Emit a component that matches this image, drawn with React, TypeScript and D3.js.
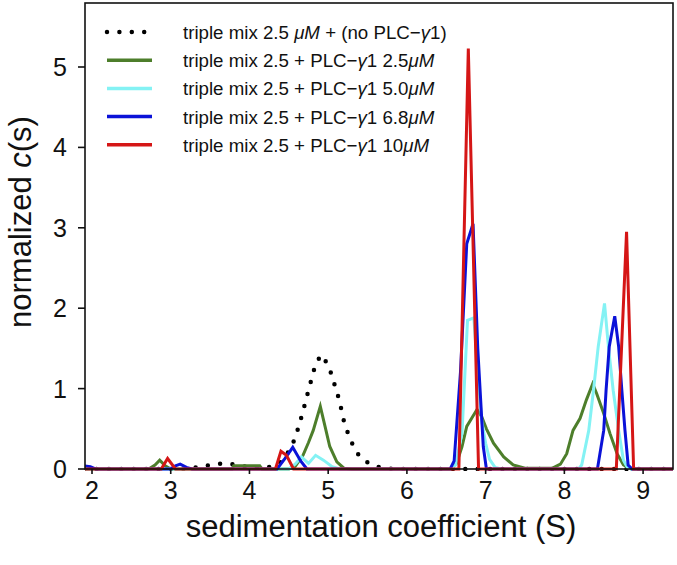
import * as d3 from 'd3';

// sedimentation coefficient (S) vs normalized c(s)
const noPlc: [number, number][] = [
  [1.9, 0], [3.2, 0], [3.4, 0.03], [3.55, 0.06], [3.7, 0.07], [3.85, 0.05],
  [4.0, 0.02], [4.2, 0.01], [4.35, 0.05], [4.42, 0.11], [4.5, 0.22],
  [4.58, 0.38], [4.67, 0.68], [4.75, 0.98], [4.83, 1.27], [4.905, 1.42],
  [5.0, 1.3], [5.05, 1.15], [5.14, 0.86], [5.21, 0.55], [5.27, 0.4],
  [5.33, 0.26], [5.41, 0.14], [5.55, 0.05], [5.7, 0.01], [5.85, 0], [9.4, 0],
];

const plc25: [number, number][] = [
  [1.9, 0], [2.72, 0], [2.8, 0.05], [2.86, 0.11], [2.93, 0.04], [3.0, 0],
  [3.78, 0], [3.8, 0.04], [4.13, 0.04], [4.16, 0], [4.5, 0], [4.58, 0.03],
  [4.68, 0.17], [4.75, 0.33], [4.81, 0.48], [4.9, 0.78], [4.96, 0.53],
  [5.02, 0.28], [5.11, 0.09], [5.2, 0.01], [5.3, 0], [6.55, 0], [6.63, 0.07],
  [6.7, 0.28], [6.76, 0.53], [6.89, 0.74], [6.95, 0.65], [7.01, 0.5],
  [7.1, 0.32], [7.23, 0.15], [7.35, 0.05], [7.5, 0.01], [7.85, 0.01],
  [7.95, 0.06], [8.03, 0.19], [8.11, 0.48], [8.2, 0.63], [8.28, 0.86],
  [8.36, 1.06], [8.41, 0.94], [8.5, 0.69], [8.58, 0.44], [8.67, 0.19],
  [8.75, 0.05], [8.85, 0], [9.4, 0],
];

const plc50: [number, number][] = [
  [1.9, 0], [4.5, 0], [4.58, 0.06], [4.66, 0.15], [4.75, 0.07], [4.84, 0.17],
  [4.94, 0.11], [5.05, 0.03], [5.15, 0], [6.55, 0], [6.62, 0.05], [6.7, 0.45],
  [6.77, 1.85], [6.85, 1.88], [6.9, 1.2], [6.95, 0.6], [7.0, 0.32],
  [7.05, 0.12], [7.12, 0.02], [7.2, 0], [8.18, 0], [8.22, 0.05], [8.31, 0.48],
  [8.37, 0.98], [8.43, 1.52], [8.51, 2.06], [8.56, 1.52], [8.62, 0.98],
  [8.69, 0.48], [8.75, 0.11], [8.8, 0.02], [8.85, 0], [9.4, 0],
];

const plc68: [number, number][] = [
  [1.9, 0.04], [1.98, 0.03], [2.05, 0], [3.0, 0], [3.06, 0.04], [3.12, 0.06],
  [3.2, 0.02], [3.27, 0], [4.35, 0], [4.45, 0.13], [4.55, 0.27], [4.65, 0.1],
  [4.73, 0], [6.55, 0], [6.6, 0.1], [6.68, 1.2], [6.76, 2.8], [6.84, 3.05],
  [6.9, 1.5], [6.97, 0.28], [7.01, 0], [8.42, 0], [8.47, 0.3], [8.5, 0.48],
  [8.53, 0.98], [8.57, 1.52], [8.64, 1.9], [8.69, 1.52], [8.73, 0.98],
  [8.77, 0.48], [8.81, 0.05], [8.86, 0], [9.4, 0],
];

const plc10: [number, number][] = [
  [1.9, 0], [2.88, 0], [2.96, 0.13], [3.06, 0], [4.33, 0], [4.4, 0.22],
  [4.47, 0.17], [4.56, 0], [6.66, 0], [6.78, 5.23], [6.91, 0], [8.66, 0],
  [8.79, 2.95], [8.88, 0], [9.4, 0],
];

const xTicks = [2, 3, 4, 5, 6, 7, 8, 9];
const yTicks = [0, 1, 2, 3, 4, 5];

type Series = {
  key: string;
  data: [number, number][];
  color: string;
  dotted?: boolean;
  label: (string | { it: string })[];
};

const series: Series[] = [
  {
    key: 'none',
    data: noPlc,
    color: '#000000',
    dotted: true,
    label: ['triple mix 2.5 ', { it: 'μM' }, ' + (no PLC−', { it: 'γ' }, '1)'],
  },
  {
    key: '2.5',
    data: plc25,
    color: '#4d7e2b',
    label: ['triple mix 2.5 + PLC−', { it: 'γ' }, '1 2.5', { it: 'μM' }],
  },
  {
    key: '5.0',
    data: plc50,
    color: '#84f2f4',
    label: ['triple mix 2.5 + PLC−', { it: 'γ' }, '1 5.0', { it: 'μM' }],
  },
  {
    key: '6.8',
    data: plc68,
    color: '#0b12d8',
    label: ['triple mix 2.5 + PLC−', { it: 'γ' }, '1 6.8', { it: 'μM' }],
  },
  {
    key: '10',
    data: plc10,
    color: '#d51616',
    label: ['triple mix 2.5 + PLC−', { it: 'γ' }, '1 10', { it: 'μM' }],
  },
];

export default function App() {
  const width = 677;
  const height = 565;
  const left = 85;
  const right = 673;
  const top = 3;
  const bottom = 469;

  const x = d3.scaleLinear().domain([1.911, 9.38]).range([left, right]);
  const y = d3.scaleLinear().domain([0, 5.796]).range([bottom, top]);

  const line = d3
    .line<[number, number]>()
    .x((d) => x(d[0]))
    .y((d) => y(d[1]));

  const font = 'Liberation Sans, Arial, sans-serif';

  return (
    <svg
      width={width}
      height={height}
      style={{ position: 'absolute', left: 0, top: 0, background: '#fff' }}
      fontFamily={font}
      fill='#111'
    >
      <defs>
        <clipPath id='plot'>
          <rect x={left} y={top} width={right - left} height={bottom - top + 2} />
        </clipPath>
      </defs>

      <g clipPath='url(#plot)'>
        {series.map((s) => (
          <path
            key={s.key}
            d={line(s.data) ?? ''}
            fill='none'
            stroke={s.color}
            strokeWidth={s.dotted ? 4.5 : 3}
            strokeDasharray={s.dotted ? '0,12.4' : undefined}
            strokeLinecap={s.dotted ? 'round' : 'butt'}
            strokeLinejoin='miter'
          />
        ))}
      </g>

      {/* frame */}
      <rect
        x={left}
        y={top}
        width={right - left}
        height={bottom - top}
        fill='none'
        stroke='#111'
        strokeWidth={1.6}
      />

      {/* x axis */}
      {xTicks.map((t) => (
        <g key={t}>
          <line x1={x(t)} x2={x(t)} y1={bottom} y2={bottom + 5} stroke='#111' strokeWidth={1.6} />
          <text x={x(t)} y={499} fontSize={25} textAnchor='middle'>
            {t}
          </text>
        </g>
      ))}
      <text x={381} y={537} fontSize={31} textAnchor='middle'>
        sedimentation coefficient (S)
      </text>

      {/* y axis */}
      {yTicks.map((t) => (
        <g key={t}>
          <line x1={left - 7} x2={left} y1={y(t)} y2={y(t)} stroke='#111' strokeWidth={1.6} />
          <text x={67} y={y(t) + 9} fontSize={25} textAnchor='end'>
            {t}
          </text>
        </g>
      ))}
      <text transform='translate(31,222) rotate(-90)' fontSize={31} textAnchor='middle'>
        normalized <tspan fontStyle='italic'>c</tspan>(s)
      </text>

      {/* legend */}
      {series.map((s, i) => {
        const ly = 32 + i * 28.2;
        return (
          <g key={s.key}>
            <line
              x1={107}
              x2={152}
              y1={ly}
              y2={ly}
              stroke={s.color}
              strokeWidth={s.dotted ? 4.5 : 3.5}
              strokeDasharray={s.dotted ? '0,12.4' : undefined}
              strokeLinecap={s.dotted ? 'round' : 'butt'}
            />
            <text x={183} y={ly + 7} fontSize={18.7}>
              {s.label.map((p, j) =>
                typeof p === 'string' ? (
                  <tspan key={j}>{p}</tspan>
                ) : (
                  <tspan key={j} fontStyle='italic'>
                    {p.it}
                  </tspan>
                ),
              )}
            </text>
          </g>
        );
      })}
    </svg>
  );
}
